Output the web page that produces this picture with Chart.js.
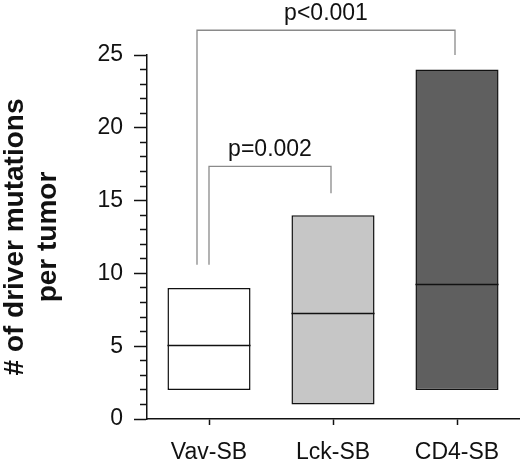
<!DOCTYPE html>
<html>
<head>
<meta charset="utf-8">
<script src="https://cdn.jsdelivr.net/npm/chart.js@4.4.1/dist/chart.umd.min.js"></script>
<style>
  html, body { margin: 0; padding: 0; background: #fff; }
  #wrap { width: 520px; height: 469px; }
</style>
</head>
<body>
<div id="wrap"><canvas id="driverChart"></canvas></div>
<script>
const groups = ['Vav-SB', 'Lck-SB', 'CD4-SB'];
const mins = [2, 1, 2];
const maxs = [9, 14, 24];
const medians = [5.05, 7.3, 9.3];
const barColors = ['#ffffff', '#c6c6c6', '#5f5f5f'];
const yTicks = [0, 5, 10, 15, 20, 25];

// significance brackets: [from group, to group, left leg bottom, top, right leg bottom, label]
const brackets = [
    [0, 1, 10.6, 17.35, 15.5, 'p=0.002'],
    [0, 2, 10.6, 26.7, 25, 'p<0.001']
];

const fontFamily = '"Liberation Sans", Arial, sans-serif';

const medianLines = {
    id: 'medianLines',
    afterDatasetsDraw(chart) {
        const c = chart.ctx;
        const y = chart.scales.y;
        const meta = chart.getDatasetMeta(0);
        c.save();
        c.strokeStyle = '#111';
        c.lineWidth = 1.5;
        meta.data.forEach((bar, i) => {
            const py = Math.round(y.getPixelForValue(medians[i])) + 0.5;
            c.beginPath();
            c.moveTo(bar.x - bar.width / 2, py);
            c.lineTo(bar.x + bar.width / 2, py);
            c.stroke();
        });
        c.restore();
    }
};

const sigBrackets = {
    id: 'sigBrackets',
    afterDraw(chart) {
        const c = chart.ctx;
        const x = chart.scales.x;
        const y = chart.scales.y;
        c.save();
        c.strokeStyle = '#8a8a8a';
        c.lineWidth = 1.3;
        c.fillStyle = '#111';
        c.font = '23px ' + fontFamily;
        c.textAlign = 'center';
        c.textBaseline = 'alphabetic';
        brackets.forEach(b => {
            // wider brackets step their left leg aside so the legs do not overlap
            const shift = (b[1] - b[0]) > 1 ? -12 : 0;
            const xl = x.getPixelForValue(b[0]) + shift;
            const xr = x.getPixelForValue(b[1]) - 2;
            const yl = y.getPixelForValue(b[2]);
            const yt = y.getPixelForValue(b[3]);
            const yr = y.getPixelForValue(b[4]);
            c.beginPath();
            c.moveTo(xl, yl);
            c.lineTo(xl, yt);
            c.lineTo(xr, yt);
            c.lineTo(xr, yr);
            c.stroke();
            c.fillText(b[5], (xl + xr) / 2, yt - 10);
        });
        c.restore();
    }
};

const ctx = document.getElementById('driverChart').getContext('2d');
new Chart(ctx, {
    type: 'bar',
    data: {
        labels: groups,
        datasets: [{
            data: groups.map((g, i) => [mins[i], maxs[i]]),
            backgroundColor: barColors,
            borderColor: '#111',
            borderWidth: 1.5,
            borderSkipped: false,
            categoryPercentage: 1,
            barPercentage: 0.67
        }]
    },
    options: {
        responsive: true,
        maintainAspectRatio: false,
        animation: false,
        layout: { padding: { top: 55, right: 1 } },
        plugins: {
            legend: { display: false },
            tooltip: { enabled: false }
        },
        scales: {
            x: {
                grid: {
                    display: true,
                    drawOnChartArea: false,
                    offset: false,
                    tickLength: 6,
                    tickColor: '#111',
                    tickWidth: 1.5
                },
                border: { color: '#111', width: 1.5 },
                ticks: {
                    color: '#111',
                    padding: 14,
                    font: { family: fontFamily, size: 23 }
                },
                afterFit: s => { s.height = 50; }
            },
            y: {
                min: 0,
                max: 25,
                grid: {
                    drawOnChartArea: false,
                    tickLength: 13,
                    tickColor: '#111',
                    tickWidth: 1.5,
                    tickBorderDash: c => (yTicks.includes(c.tick.value) ? [] : [0, 6, 7, 0])
                },
                border: { color: '#111', width: 1.5 },
                ticks: {
                    stepSize: 1,
                    autoSkip: false,
                    color: '#111',
                    padding: 11,
                    font: { family: fontFamily, size: 23 },
                    callback: v => (yTicks.includes(v) ? v : '')
                },
                title: {
                    display: true,
                    text: ['# of driver mutations', 'per tumor'],
                    color: '#111',
                    font: { family: fontFamily, size: 28, weight: 'bold', lineHeight: 1.2 },
                    padding: { top: -2, bottom: 0 }
                },
                afterFit: s => { s.width = 147; }
            }
        }
    },
    plugins: [medianLines, sigBrackets]
});
</script>
</body>
</html>
